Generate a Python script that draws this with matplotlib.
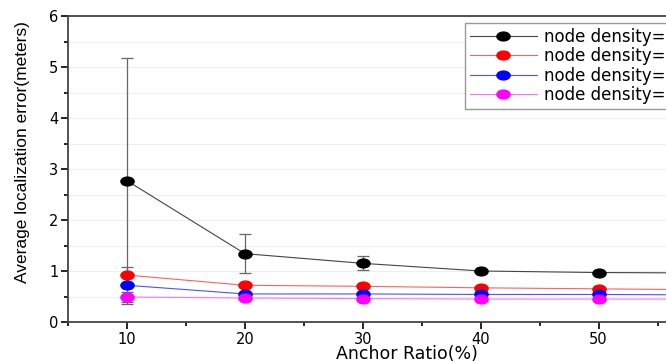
import numpy as np
import matplotlib.pyplot as plt
from matplotlib.ticker import MultipleLocator
from matplotlib.lines import Line2D
from matplotlib.path import Path
from matplotlib.transforms import Affine2D

anchor_ratio = [10, 20, 30, 40, 50, 60]

err_d1 = [2.77, 1.34, 1.15, 1.00, 0.97, 0.96]
std_d1 = [2.41, 0.38, 0.14, 0.0, 0.0, 0.0]
err_d2 = [0.92, 0.72, 0.70, 0.67, 0.65, 0.63]
std_d2 = [0.15, 0.0, 0.0, 0.0, 0.0, 0.0]
err_d3 = [0.72, 0.55, 0.55, 0.54, 0.54, 0.53]
std_d3 = [0.0, 0.0, 0.0, 0.0, 0.0, 0.0]
err_d4 = [0.49, 0.47, 0.46, 0.45, 0.45, 0.45]
std_d4 = [0.10, 0.0, 0.0, 0.0, 0.0, 0.0]

labels = ['node density=100', 'node density=150', 'node density=200', 'node density=250']
colors = ['black', 'red', 'blue', 'magenta']
line_colors = ['#444444', '#ff6060', '#5050ff', '#ff70ff']

plt.rcParams['font.family'] = ['DejaVu Sans']

# the source picture is stretched sideways, so the dots are wide ellipses
oval = Path.unit_circle().transformed(Affine2D().scale(1.5, 1.0))

fig = plt.figure(figsize=(6.66, 3.62), dpi=100)
ax = fig.add_axes([68/666, 1-322/362, 678/666, 306/362])

series = [(err_d1, std_d1), (err_d2, std_d2), (err_d3, std_d3), (err_d4, std_d4)]
handles = []
for (vals, sd), c, lc, lab in zip(series, colors, line_colors, labels):
    ax.errorbar(anchor_ratio, vals, yerr=sd, color=lc, ecolor='#666666', elinewidth=0.9,
                capsize=4, capthick=0.9, lw=0.8, marker=oval, markersize=9.5,
                markerfacecolor=c, markeredgecolor=c)
    handles.append(Line2D([], [], color=lc, lw=0.8, marker=oval, markersize=9.5,
                          markerfacecolor=c, markeredgecolor=c, label=lab))

ax.set_xlim(5, 62.5)
ax.set_ylim(0, 6)
ax.xaxis.set_major_locator(MultipleLocator(10))
ax.xaxis.set_minor_locator(MultipleLocator(5))
ax.yaxis.set_major_locator(MultipleLocator(1))
ax.yaxis.set_minor_locator(MultipleLocator(0.5))
ax.grid(True, which='both', axis='y', color='#eeeeee', lw=0.8)
ax.set_axisbelow(True)

for s in ax.spines.values():
    s.set_linewidth(1.3)
    s.set_color('#444444')
ax.tick_params(which='major', direction='out', length=5, width=1.2, labelsize=10.5, pad=2)
ax.tick_params(which='minor', direction='out', length=3, width=1.2)

ax.set_xlabel('Anchor Ratio(%)', fontsize=12.5, labelpad=-1)
ax.set_ylabel('Average localization error(meters)', fontsize=12.5,
              family=['Liberation Sans Narrow', 'Liberation Sans'])
ax.yaxis.set_label_coords(-0.056, 0.555)

leg = ax.legend(handles=handles, loc='upper left', bbox_to_anchor=(465/666, 1-23/362),
                bbox_transform=fig.transFigure, borderaxespad=0, fontsize=12,
                handlelength=4.0, handletextpad=0.45, numpoints=1,
                labelspacing=0.08, borderpad=0.3, fancybox=False, framealpha=1,
                edgecolor='#999999')
leg.get_frame().set_linewidth(1.0)

fig.savefig('out.png', dpi=100)
